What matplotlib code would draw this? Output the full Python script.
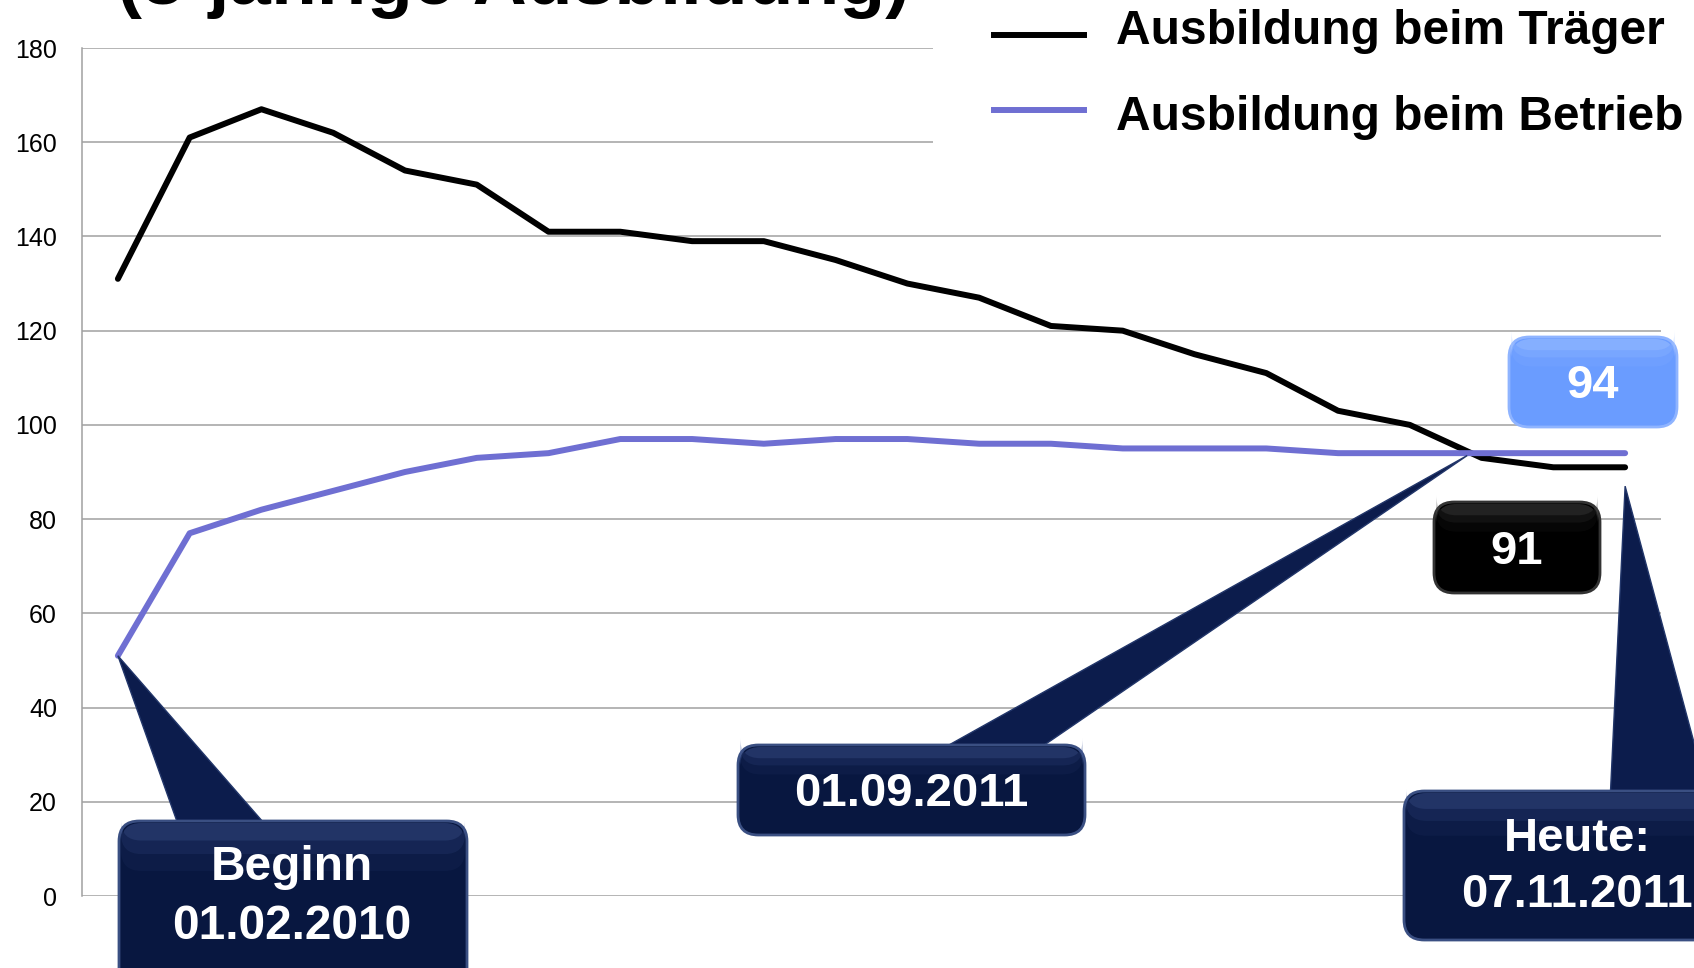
"""Teilnehmerentwicklung (3-jährige Ausbildung): Träger vs. Betrieb, mit Callouts."""

import matplotlib

matplotlib.use("Agg")
import matplotlib.pyplot as plt
from matplotlib.lines import Line2D
from matplotlib.patches import FancyBboxPatch, Polygon, Rectangle

plt.rcParams["font.family"] = ["Liberation Sans", "DejaVu Sans"]

# Monatswerte Feb 2010 .. Nov 2011
traeger = [131, 161, 167, 162, 154, 151, 141, 141, 139, 139, 135,
           130, 127, 121, 120, 115, 111, 103, 100, 93, 91, 91]
betrieb = [51, 77, 82, 86, 90, 93, 94, 97, 97, 96, 97,
           97, 96, 96, 95, 95, 95, 94, 94, 94, 94, 94]
labels = ["Ausbildung beim Träger", "Ausbildung beim Betrieb"]
y_ticks = list(range(0, 181, 20))

W, H = 1694, 968
NAVY = "#081740"
BLUE = "#6f6fd2"

fig = plt.figure(figsize=(W / 100, H / 100), dpi=100)
ax = fig.add_axes([82 / W, 1 - 896 / H, (1661 - 82) / W, (896 - 48) / H])

x = range(len(traeger))
ax.plot(x, traeger, color="black", linewidth=4.3, solid_capstyle="round", zorder=3)
ax.plot(x, betrieb, color=BLUE, linewidth=4.3, solid_capstyle="round", zorder=3)

ax.set_xlim(-0.5, len(traeger) - 0.5)
ax.set_ylim(0, 180)
ax.set_yticks(y_ticks)
ax.set_xticks([])
ax.tick_params(axis="y", length=0, pad=18, labelsize=18)
ax.grid(axis="y", color="#a0a0a0", linewidth=1.1)
ax.set_axisbelow(True)
for s in ("top", "right", "bottom"):
    ax.spines[s].set_visible(False)
ax.spines["left"].set_color("#a0a0a0")
ax.spines["left"].set_linewidth(1.1)


def px(xp, yp):
    """Pixel (von oben links) -> Figure-Koordinaten."""
    return xp / W, 1 - yp / H


def data_px(xd, yd):
    xf, yf = fig.transFigure.inverted().transform(ax.transData.transform((xd, yd)))
    return xf, yf


def rbox(l, t, r, b, **kw):
    x0, y0 = px(l, b)
    x1, y1 = px(r, t)
    p = FancyBboxPatch((x0, y0), x1 - x0, y1 - y0,
                       boxstyle="round,pad=0,rounding_size=0.012",
                       mutation_aspect=W / H, transform=fig.transFigure, **kw)
    fig.add_artist(p)
    return p


def box(l, t, r, b, color, text, center=None, fs=34, z=5,
        edge="#3a4f82", shine="#4a60a0"):
    rbox(l, t, r, b, facecolor=color, edgecolor=edge, linewidth=2, zorder=z)
    # weicher Glanz oben (mehrere halbtransparente Streifen)
    for frac, a in [(0.08, 0.25), (0.16, 0.15), (0.26, 0.08)]:
        rbox(l + 2, t + 2, r - 2, t + (b - t) * frac + 6, facecolor=shine,
             edgecolor="none", alpha=a, zorder=z)
    cx, cy = center if center else ((l + r) / 2, (t + b) / 2 + 4)
    fx, fy = px(cx, cy)
    fig.text(fx, fy, text, ha="center", va="center", color="white",
             fontsize=fs, fontweight="bold", linespacing=1.38, zorder=z + 1)


def wedge(tip, base_l, base_r, z=4):
    poly = Polygon([tip, px(*base_l), px(*base_r)], closed=True,
                   transform=fig.transFigure, facecolor="#0c1c4c",
                   edgecolor="#22366a", linewidth=1, zorder=z)
    fig.add_artist(poly)


# Legende mit weißem Hintergrund (überdeckt die Gitterlinien)
fig.add_artist(Rectangle(px(933, 155), (W - 933) / W, 155 / H,
                         transform=fig.transFigure, facecolor="white",
                         edgecolor="none", zorder=2))
for yl, yt, col, lab in [(35, 32, "black", labels[0]), (110, 117, BLUE, labels[1])]:
    xa, ya = px(994, yl)
    xb, _ = px(1084, yl)
    fig.add_artist(Line2D([xa, xb], [ya, ya], color=col, linewidth=4.3,
                          transform=fig.transFigure, zorder=3))
    tx, ty = px(1116, yt)
    fig.text(tx, ty, lab, ha="left", va="center", fontsize=34.5,
             fontweight="bold", zorder=3)

# Titel (oben abgeschnitten)
tx, ty = px(117, 4)
fig.text(tx, ty, "(3-jährige Ausbildung)", ha="left", va="baseline",
         fontsize=54, fontweight="bold")

# Callouts
wedge(data_px(0, betrieb[0]), (180, 830), (270, 830))
box(119, 821, 467, 990, NAVY, "Beginn\n01.02.2010", center=(292, 897), fs=34.5)

wedge(data_px(18.8, 93.5), (940, 750), (1037, 750))
box(738, 745, 1085, 835, NAVY, "01.09.2011")

wedge(data_px(21, 87), (1610, 802), (1710, 802))
box(1404, 791, 1720, 940, NAVY, "Heute:\n07.11.2011", center=(1577, 867))

box(1509, 337, 1677, 427, "#6a9cff", str(betrieb[-1]), edge="#8fb4ff",
    shine="#b0ccff")
box(1434, 502, 1600, 593, "black", str(traeger[-1]), edge="#333333",
    shine="#555555")

fig.savefig("out.png", dpi=100)
